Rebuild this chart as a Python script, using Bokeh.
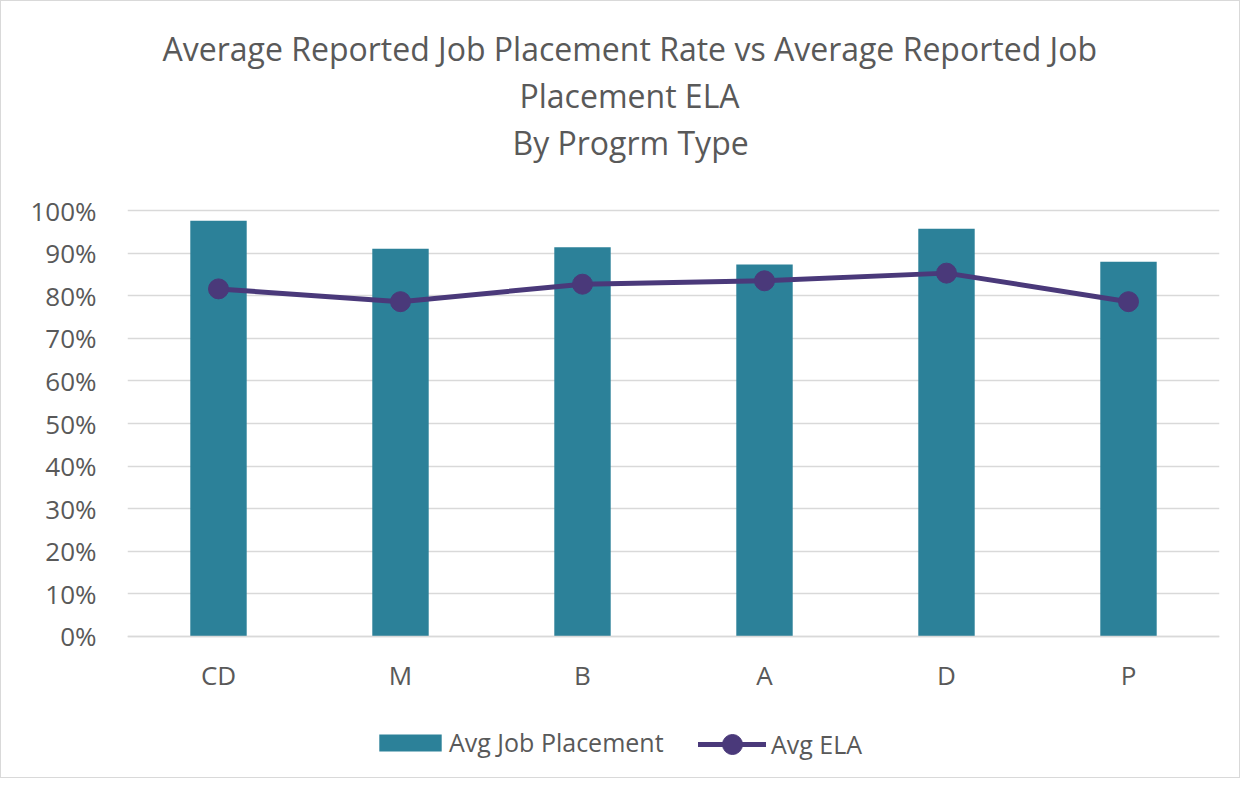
from bokeh.plotting import figure
from bokeh.models import (FactorRange, Range1d, FixedTicker, NumeralTickFormatter,
                          Legend, LegendItem, Title)
from bokeh.embed import file_html
from bokeh.resources import INLINE

categories = ["CD", "M", "B", "A", "D", "P"]
job_placement = [0.976, 0.910, 0.914, 0.873, 0.957, 0.880]
avg_ela = [0.816, 0.786, 0.827, 0.835, 0.853, 0.786]
y_ticks = [0.0, 0.1, 0.2, 0.3, 0.4, 0.5, 0.6, 0.7, 0.8, 0.9, 1.0]
title_lines = ["Average Reported Job Placement Rate vs Average Reported Job",
               "Placement ELA",
               "By Progrm Type"]
series_names = ["Avg Job Placement", "Avg ELA"]

FONT = "Open Sans"
TEXT_COLOR = "#595959"
BAR_COLOR = "#2C8199"
LINE_COLOR = "#4A397A"
GRID_COLOR = "#D9D9D9"

# frame spans the whole lower canvas; 0% sits at 635px, 100% at 209px
p = figure(width=1240, height=778,
           x_range=FactorRange(*categories, range_padding=0),
           y_range=Range1d(-0.3357, 1.108),
           output_backend="svg", toolbar_location=None,
           min_border_left=126, min_border_right=22,
           min_border_top=163, min_border_bottom=0,
           styles={"border": "1px solid #D9D9D9"})
p.outline_line_color = None
p.background_fill_color = "white"
p.border_fill_color = "white"

bars = p.vbar(x=categories, top=job_placement, width=0.31,
              fill_color=BAR_COLOR, line_color=None)
line = p.line(x=categories, y=avg_ela, line_width=5, line_color=LINE_COLOR,
              line_join="round", line_cap="round")
pts = p.scatter(x=categories, y=avg_ela, size=20, fill_color=LINE_COLOR,
                line_color=LINE_COLOR)

p.xgrid.visible = False
p.ygrid.ticker = FixedTicker(ticks=y_ticks)
p.ygrid.grid_line_color = GRID_COLOR
p.ygrid.grid_line_width = 1.5

p.yaxis.ticker = FixedTicker(ticks=y_ticks)
p.yaxis.formatter = NumeralTickFormatter(format="0%")
p.yaxis.axis_line_color = None
p.yaxis.major_tick_line_color = None
p.yaxis.minor_tick_line_color = None
p.yaxis.major_label_standoff = 25
p.yaxis.major_label_text_font = FONT
p.yaxis.major_label_text_font_size = "26px"
p.yaxis.major_label_text_color = TEXT_COLOR

p.xaxis.fixed_location = 0
p.xaxis.axis_line_color = GRID_COLOR
p.xaxis.axis_line_width = 1.5
p.xaxis.major_tick_line_color = None
p.xaxis.minor_tick_line_color = None
p.xaxis.major_label_standoff = 15
p.xaxis.major_label_text_font = FONT
p.xaxis.major_label_text_font_size = "26px"
p.xaxis.major_label_text_color = TEXT_COLOR

common = dict(orientation="horizontal", label_text_font=FONT,
              label_text_font_size="25px", label_text_color=TEXT_COLOR,
              border_line_color=None, background_fill_alpha=0,
              padding=0, margin=0)
legend_bar = Legend(items=[LegendItem(label=series_names[0], renderers=[bars])],
                    location=(244, 20), glyph_width=78, glyph_height=21,
                    label_standoff=0, **common)
legend_line = Legend(items=[LegendItem(label=series_names[1], renderers=[line, pts])],
                     location=(571, 10), glyph_width=68, glyph_height=50,
                     label_standoff=5, **common)
p.add_layout(legend_bar, "center")
p.add_layout(legend_line, "center")

title_offsets = [35, 392, 385]
for txt, off in reversed(list(zip(title_lines, title_offsets))):
    p.add_layout(Title(text=txt, align="left", offset=off, text_font=FONT,
                       text_font_size="32px", text_font_style="normal",
                       text_color=TEXT_COLOR, standoff=2), "above")

open("out.html", "w").write(file_html(p, INLINE))
